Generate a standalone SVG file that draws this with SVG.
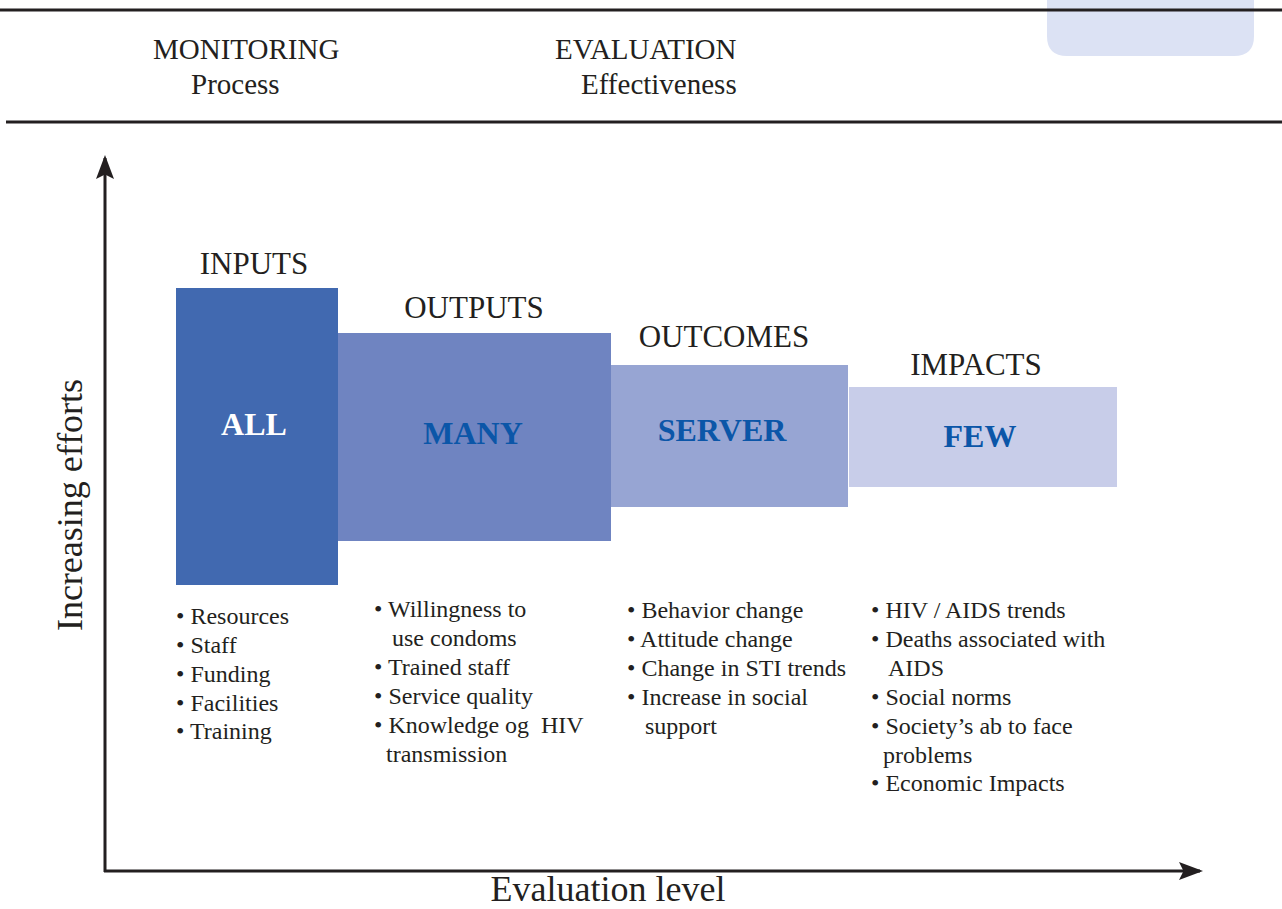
<svg xmlns="http://www.w3.org/2000/svg" width="1282" height="909" viewBox="0 0 1282 909">
<style>
text { font-family: "Liberation Serif", "Times New Roman", serif; fill: #231F20; }
.hdr { font-size: 29px; }
.stage { font-size: 31px; text-anchor: middle; }
.big { font-size: 32px; font-weight: bold; text-anchor: middle; fill: #0B56A8; }
.li { font-size: 24px; }
.axis { font-size: 36px; }
.ax { stroke: #231F20; stroke-width: 3; fill: none; }
</style>
<defs>
<marker id="arr" markerWidth="8" markerHeight="6" refX="7" refY="3" orient="auto" markerUnits="strokeWidth">
<path d="M0,0 L8,3 L0,6 L1.5,3 Z" fill="#231F20"/>
</marker>
</defs>
<rect width="1282" height="909" fill="#FFFFFF"/>

<g id="header">
<path d="M1047,0 H1254 V36 Q1254,56 1234,56 H1067 Q1047,56 1047,36 Z" fill="#DCE2F4"/>
<line x1="0" y1="10" x2="1282" y2="10" stroke="#231F20" stroke-width="3"/>
<line x1="6" y1="122" x2="1282" y2="122" stroke="#231F20" stroke-width="3"/>
<text class="hdr" x="153" y="59">MONITORING</text>
<text class="hdr" x="191" y="94">Process</text>
<text class="hdr" x="555" y="59">EVALUATION</text>
<text class="hdr" x="581" y="94">Effectiveness</text>
</g>

<g id="axes">
<line class="ax" x1="105" y1="872" x2="105" y2="158" marker-end="url(#arr)"/>
<line class="ax" x1="104" y1="871" x2="1200" y2="871" marker-end="url(#arr)"/>
<text class="axis" x="0" y="0" transform="translate(82,505) rotate(-90)" text-anchor="middle">Increasing efforts</text>
<text class="axis" x="608" y="901" text-anchor="middle">Evaluation level</text>
</g>

<g id="inputs">
<text class="stage" x="254" y="274">INPUTS</text>
<rect x="176" y="288" width="162" height="297" fill="#4169B0"/>
<text class="big" x="254" y="435" style="fill:#FFFFFF">ALL</text>
<text class="li" x="176" y="624">• Resources</text>
<text class="li" x="176" y="653">• Staff</text>
<text class="li" x="176" y="682">• Funding</text>
<text class="li" x="176" y="711">• Facilities</text>
<text class="li" x="176" y="739">• Training</text>
</g>

<g id="outputs">
<text class="stage" x="474" y="318">OUTPUTS</text>
<rect x="338" y="333" width="273" height="208" fill="#6F84C1"/>
<text class="big" x="473" y="444">MANY</text>
<text class="li" x="374" y="617">• Willingness to</text>
<text class="li" x="392" y="646">use condoms</text>
<text class="li" x="374" y="675">• Trained staff</text>
<text class="li" x="374" y="704">• Service quality</text>
<text class="li" x="374" y="733">• Knowledge og&#160; HIV</text>
<text class="li" x="386" y="762">transmission</text>
</g>

<g id="outcomes">
<text class="stage" x="724" y="347">OUTCOMES</text>
<rect x="611" y="365" width="237" height="142" fill="#97A5D3"/>
<text class="big" x="722" y="441">SERVER</text>
<text class="li" x="627" y="618">• Behavior change</text>
<text class="li" x="627" y="647">• Attitude change</text>
<text class="li" x="627" y="676">• Change in STI trends</text>
<text class="li" x="627" y="705">• Increase in social</text>
<text class="li" x="645" y="734">support</text>
</g>

<g id="impacts">
<text class="stage" x="976" y="375">IMPACTS</text>
<rect x="849" y="387" width="268" height="100" fill="#C8CDE9"/>
<text class="big" x="980" y="447">FEW</text>
<text class="li" x="871" y="618">• HIV / AIDS trends</text>
<text class="li" x="871" y="647">• Deaths associated with</text>
<text class="li" x="888" y="676">AIDS</text>
<text class="li" x="871" y="705">• Social norms</text>
<text class="li" x="871" y="734">• Society’s ab to face</text>
<text class="li" x="883" y="763">problems</text>
<text class="li" x="871" y="791">• Economic Impacts</text>
</g>
</svg>
